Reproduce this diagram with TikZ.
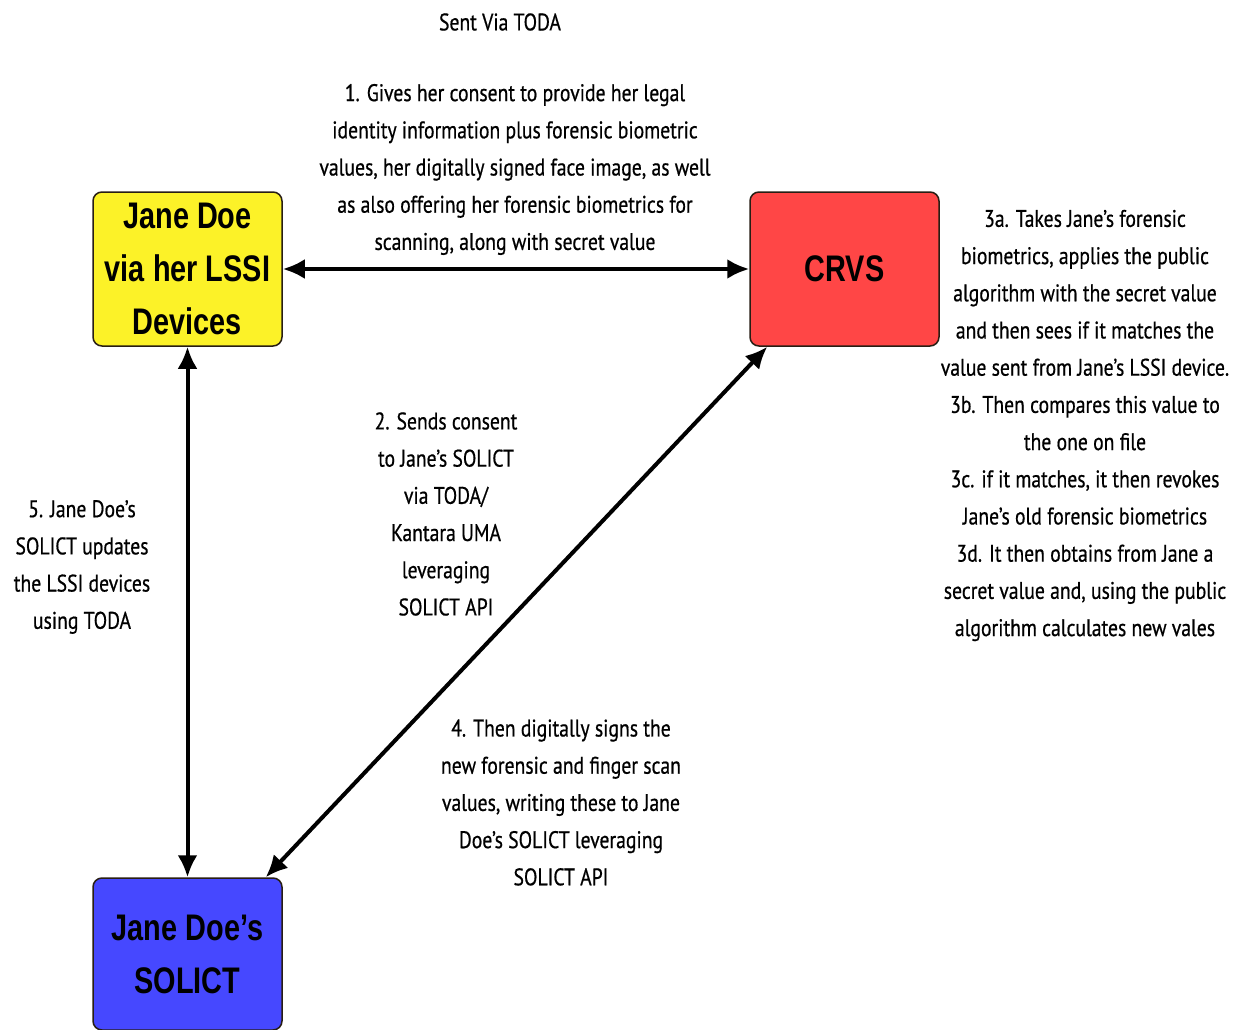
\documentclass[tikz,border=0pt]{standalone}
\usepackage{fontspec}
\setmainfont{Liberation Sans}
\newfontfamily\boxfont[FakeStretch=0.78]{Liberation Sans}
\newfontfamily\lblfont[FakeStretch=0.82,FakeBold=0.6]{PT Sans}
\usetikzlibrary{arrows.meta}
\definecolor{boxyellow}{RGB}{252,242,40}
\definecolor{boxred}{RGB}{255,70,70}
\definecolor{boxblue}{RGB}{70,72,255}
\definecolor{edgecol}{RGB}{40,30,20}
\tikzset{
  entity/.style={draw=edgecol, line width=1.5pt, rounded corners=9pt, minimum width=189pt, minimum height=154pt, align=center, inner sep=0pt, font=\boxfont\bfseries\fontsize{37}{53}\selectfont},
  lbl/.style={align=center, inner sep=0pt, font=\lblfont\fontsize{24}{37.2}\selectfont},
  conn/.style={line width=4pt, {Latex[length=22pt,width=20pt]}-{Latex[length=22pt,width=20pt]}, shorten <=0pt, shorten >=0pt}
}
\begin{document}
\begin{tikzpicture}[x=1pt,y=1pt]
\useasboundingbox[fill=white] (0,0) rectangle (1245,-1030);
\node[entity, fill=boxyellow] (jane) at (187.5,-269) {Jane Doe\\via her LSSI\\Devices};
\node[entity, fill=boxred] (crvs) at (844.5,-269) {CRVS};
\node[entity, fill=boxblue, minimum height=152pt] (solict) at (187.5,-954) {Jane Doe’s\\SOLICT};

\node[lbl] (sent) at (500,-22) {Sent Via TODA};
\node[lbl] (l1) at (515,-169.5) {1. Gives her consent to provide her legal\\identity information plus forensic biometric\\values, her digitally signed face image, as well\\as also offering her forensic biometrics for\\scanning, along with secret value};
\node[lbl] (l3) at (1085,-425.5) {3a. Takes Jane’s forensic\\biometrics, applies the public\\algorithm with the secret value\\and then sees if it matches the\\value sent from Jane’s LSSI device.\\3b. Then compares this value to\\the one on file\\3c. if it matches, it then revokes\\Jane’s old forensic biometrics\\3d. It then obtains from Jane a\\secret value and, using the public\\algorithm calculates new vales};
\node[lbl] (l5) at (82,-567) {5. Jane Doe’s\\SOLICT updates\\the LSSI devices\\using TODA};
\node[lbl] (l2) at (446,-514) {2. Sends consent\\to Jane’s SOLICT\\via TODA/\\Kantara UMA\\leveraging\\SOLICT API};
\node[lbl] (l4) at (561,-802.5) {4. Then digitally signs the\\new forensic and finger scan\\values, writing these to Jane\\Doe’s SOLICT leveraging\\SOLICT API};

\draw[conn] (jane.east) -- (crvs.west);
\draw[conn] (jane.south) -- (solict.north);
\draw[conn] ([xshift=18pt]crvs.south west) -- ([xshift=-17pt]solict.north east);
\end{tikzpicture}
\end{document}
